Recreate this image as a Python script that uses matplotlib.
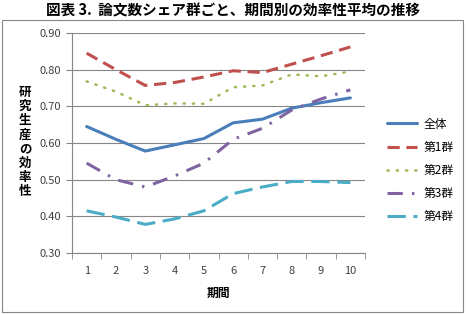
import numpy as np
import matplotlib
matplotlib.use("Agg")
from matplotlib import pyplot as plt
from matplotlib.patches import Rectangle

plt.rcParams['font.family'] = ['Noto Sans CJK JP', 'DejaVu Sans']

periods = [1, 2, 3, 4, 5, 6, 7, 8, 9, 10]
series_names = ['全体', '第1群', '第2群', '第3群', '第4群']
zentai = [0.645, 0.610, 0.578, 0.595, 0.612, 0.655, 0.665, 0.695, 0.710, 0.723]
gun1 = [0.845, 0.800, 0.757, 0.765, 0.780, 0.797, 0.792, 0.815, 0.838, 0.862]
gun2 = [0.768, 0.740, 0.703, 0.708, 0.707, 0.752, 0.757, 0.787, 0.782, 0.795]
gun3 = [0.545, 0.500, 0.480, 0.510, 0.545, 0.610, 0.640, 0.690, 0.720, 0.745]
gun4 = [0.415, 0.398, 0.378, 0.393, 0.415, 0.462, 0.480, 0.495, 0.495, 0.492]
y_ticks = [0.30, 0.40, 0.50, 0.60, 0.70, 0.80, 0.90]

colors = ['#4A7EBB', '#C0504D', '#9BBB59', '#8064A2', '#4BACC6']
styles = ['-', (0, (4, 2.2)), (0, (0.5, 3.2)), (0, (5, 3, 0.8, 3)), (0, (6, 2.5))]
caps = ['round', 'butt', 'round', 'butt', 'butt']
widths = [2.2, 2.2, 1.8, 2.2, 2.2]

fig = plt.figure(figsize=(4.67, 3.14), dpi=100)
W, H = 467, 314
ax = fig.add_axes([72 / W, 1 - 253 / H, (365 - 72) / W, (253 - 33) / H])

x = np.arange(len(periods))
for name, vals, c, ls, cap, lw in zip(series_names, [zentai, gun1, gun2, gun3, gun4],
                                       colors, styles, caps, widths):
    ax.plot(x, vals, color=c, ls=ls, lw=lw, label=name,
            dash_capstyle=cap, solid_capstyle='round')

ax.set_ylim(0.30, 0.90)
ax.set_yticks(y_ticks)
ax.set_yticklabels([f'{v:.2f}' for v in y_ticks], fontsize=8, color='#404040')
ax.set_xlim(-0.5, len(periods) - 0.5)
ax.set_xticks(x)
ax.set_xticklabels([str(p) for p in periods], fontsize=8, color='#404040')
ax.set_xticks(np.arange(-0.5, len(periods)), minor=True)
ax.tick_params(axis='x', which='major', length=0, pad=9)
ax.tick_params(axis='x', which='minor', length=4, color='#868686')
ax.tick_params(axis='y', length=4, color='#868686', pad=4)
ax.grid(axis='y', color='#868686', lw=0.8)
ax.set_axisbelow(True)
for s in ['top', 'right']:
    ax.spines[s].set_visible(False)
for s in ['left', 'bottom']:
    ax.spines[s].set_color('#868686')

ax.set_xlabel('期間', fontsize=8.5, fontweight='bold', labelpad=6)
ax.xaxis.set_label_coords((218 - 72) / (365 - 72), -(287 - 253) / (253 - 33))

fig.text(25 / W, 1 - 142 / H, '\n'.join('研究生産の効率性'), fontsize=9,
         fontweight='bold', ha='center', va='center', linespacing=1.12)

fig.text(233 / W, 1 - 10 / H, '図表 3.  論文数シェア群ごと、期間別の効率性平均の推移',
         fontsize=10.5, fontweight='bold', ha='center', va='center')

leg = ax.legend(loc='upper left', bbox_to_anchor=(376 / W, 1 - 107 / H),
                bbox_transform=fig.transFigure, frameon=False, fontsize=8.5,
                handlelength=2.6, handletextpad=0.5, labelspacing=0.85)

fig.patches.append(Rectangle((2 / W, 1 - 312 / H), 461 / W, 292 / H,
                             transform=fig.transFigure, fill=False,
                             edgecolor='#868686', lw=0.8))

fig.savefig('out.png', dpi=100)
